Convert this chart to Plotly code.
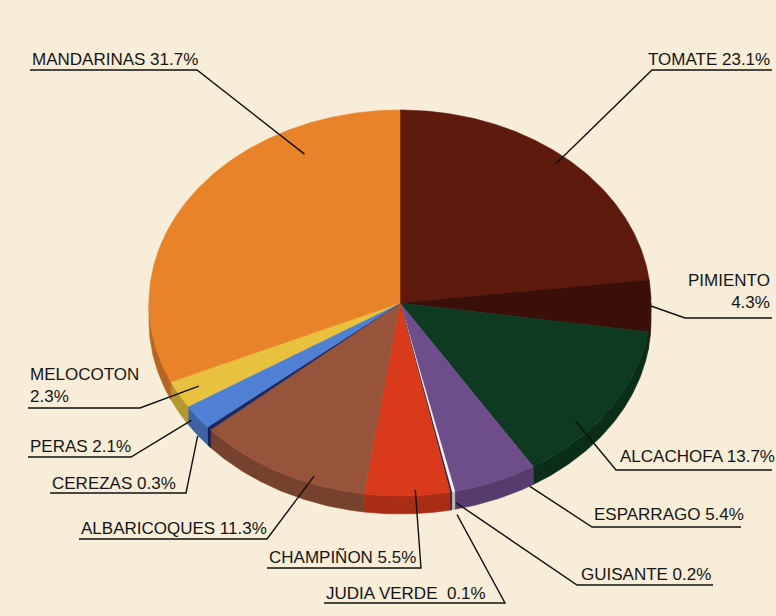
import numpy as np
import plotly.graph_objects as go

# ---------------- data ----------------
names = ["TOMATE", "PIMIENTO", "ALCACHOFA", "ESPARRAGO", "GUISANTE", "JUDIA VERDE",
         "CHAMPIÑON", "ALBARICOQUES", "CEREZAS", "PERAS", "MELOCOTON", "MANDARINAS"]
values = [23.1, 4.3, 13.7, 5.4, 0.2, 0.1, 5.5, 11.3, 0.3, 2.1, 2.3, 31.7]
value_text = ["23.1%", "4.3%", "13.7%", "5.4%", "0.2%", "0.1%",
              "5.5%", "11.3%", "0.3%", "2.1%", "2.3%", "31.7%"]
# separator between name and value in the label ("<br>" = new line)
label_sep = [" ", "<br>", " ", " ", " ", "  ", " ", " ", " ", " ", "<br>", " "]

# ---------------- styles ----------------
colors = ["#5D1A0D", "#3A0E09", "#0E3A21", "#6D4E8B", "#F4F2EE", "#1C1C3A",
          "#D93A1C", "#98543A", "#1B2960", "#5080D4", "#E8C23F", "#E9832A"]
BG = "#F7EDD8"

# pie geometry (pixel space; y axis reversed)
CX, CY, RX, RY, DEPTH = 400, 303, 251, 193, 18

# leader anchor inside each slice: (fraction along slice, radius fraction)
leader_anchor = [(0.49, 0.95), (0.5, 1.0), (0.66, 0.93), (0.18, 1.08), (0.5, 1.06), (0.5, 1.12),
                 (0.4, 0.97), (0.31, 0.96), (0.5, 1.06), (0.5, 1.03), (0.5, 0.91), (0.77, 0.86)]
# label layout: text x, text centre y, align, underline y, underline x0, x1, join side
label_layout = [
    (772, 59.5, "right", 70, 652, 772, 0),
    (772, 291, "right", 318, 685, 772, 0),
    (618, 456.5, "left", 470, 616, 772, 0),
    (592, 514.5, "left", 527, 592, 741, 0),
    (579, 574, "left", 585, 577, 713, 0),
    (324, 593, "left", 603, 324, 505, 1),
    (267, 557.5, "left", 568, 267, 421, 1),
    (79, 528, "left", 539, 79, 267, 1),
    (50, 483, "left", 493, 50, 186, 1),
    (28, 446, "left", 457, 28, 131, 1),
    (28, 385, "left", 408, 28, 140, 1),
    (30, 59.5, "left", 70, 30, 197, 1),
]
FONT = dict(family="Liberation Sans, Arial, sans-serif", size=17, color="#151515")


def shade(hexc, f):
    h = hexc.lstrip("#")
    r, g, b = (int(h[i:i + 2], 16) for i in (0, 2, 4))
    return "rgb(%d,%d,%d)" % (r * f, g * f, b * f)


def pt(theta_deg, r=1.0, dy=0.0):
    t = np.radians(theta_deg)
    return CX + r * RX * np.sin(t), CY - r * RY * np.cos(t) + dy


fig = go.Figure()

total = sum(values)
cum = np.concatenate([[0], np.cumsum(values)]) / total * 360.0

# side wall (rim) of the 3D pie, front half only
for i, v in enumerate(values):
    a0, a1 = max(cum[i], 90.0), min(cum[i + 1], 270.0)
    if a1 <= a0:
        continue
    ts = np.linspace(a0, a1, max(int((a1 - a0) * 2), 2))
    xs_t, ys_t = pt(ts)
    xs_b, ys_b = pt(ts[::-1], dy=DEPTH)
    xs = np.concatenate([xs_t, xs_b, xs_t[:1]])
    ys = np.concatenate([ys_t, ys_b, ys_t[:1]])
    c = shade(colors[i], 0.78)
    fig.add_trace(go.Scatter(x=xs, y=ys, fill="toself", fillcolor=c, mode="lines",
                             line=dict(color=c, width=0.6), hoverinfo="skip", showlegend=False))

# top surface wedges
for i, v in enumerate(values):
    a0, a1 = cum[i], cum[i + 1]
    ts = np.linspace(a0, a1, max(int((a1 - a0) * 2), 2))
    ax, ay = pt(ts)
    xs = np.concatenate([[CX], ax, [CX]])
    ys = np.concatenate([[CY], ay, [CY]])
    fig.add_trace(go.Scatter(x=xs, y=ys, fill="toself", fillcolor=colors[i], mode="lines",
                             line=dict(color=colors[i], width=0.6), hoverinfo="skip",
                             showlegend=False, name=names[i]))

# leader lines, underlines and labels
for i, v in enumerate(values):
    frac, rr = leader_anchor[i]
    th = cum[i] + frac * (cum[i + 1] - cum[i])
    axp, ayp = pt(th, rr)
    tx, ty, align, uy, ux0, ux1, join = label_layout[i]
    if join == 0:
        lx, ly = [axp, ux0, ux1], [ayp, uy, uy]
    else:
        lx, ly = [axp, ux1, ux0], [ayp, uy, uy]
    fig.add_trace(go.Scatter(x=lx, y=ly, mode="lines", line=dict(color="#111111", width=1.4),
                             hoverinfo="skip", showlegend=False))
    text = names[i] + label_sep[i] + value_text[i]
    fig.add_annotation(x=tx, y=ty, xref="x", yref="y", text=text,
                       showarrow=False, xanchor=align, yanchor="middle",
                       font=FONT, align=align)

fig.update_layout(
    width=776, height=616, margin=dict(l=0, r=0, t=0, b=0),
    paper_bgcolor=BG, plot_bgcolor=BG,
    xaxis=dict(range=[0, 776], visible=False, fixedrange=True),
    yaxis=dict(range=[616, 0], visible=False, fixedrange=True),
    showlegend=False,
)
fig.write_html("out.html")
